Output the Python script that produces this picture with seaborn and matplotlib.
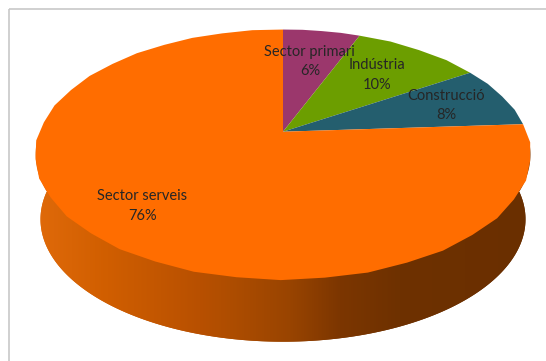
import numpy as np
import matplotlib
matplotlib.use("Agg")
import matplotlib.pyplot as plt
import seaborn as sns
from matplotlib.transforms import Transform
from matplotlib.path import Path
from matplotlib.patches import Polygon, Rectangle
from matplotlib.colors import LinearSegmentedColormap

# Employment by sector (%)
sectors = ["Sector primari", "Indústria", "Construcció", "Sector serveis"]
shares = [6, 10, 8, 76]
colors = ["#9B376C", "#6C9E00", "#245E6E", "#FF6D00"]
label_radius = [0.66, 0.665, 0.735, 0.76]

sns.set_theme(style="white")
plt.rcParams["font.family"] = ["Lato", "DejaVu Sans"]

W, H = 546, 361
CX, CY = 283.0, 131.7      # projected centre of the top face
RX, RY = 243.3, 120.8      # half axes of the tilted disc
TILT = 0.1824              # perspective strength
SHRINK = 0.98              # bottom face is slightly smaller (viewed from above)
DROP = 341.7 - CY - SHRINK * RY / (1 - TILT)


class TiltedDisk(Transform):
    """Map the unit pie disc onto a tilted, perspective-projected ellipse."""
    input_dims = output_dims = 2
    is_separable = False
    has_inverse = False

    def __init__(self, drop=0.0, shrink=1.0):
        super().__init__()
        self.drop = drop
        self.shrink = shrink

    def transform_non_affine(self, values):
        values = np.asarray(values, float).reshape(-1, 2)
        u, v = values[:, 0], values[:, 1]
        w = 1 + TILT * v
        x = CX + self.shrink * RX * u / w
        y = CY + self.drop - self.shrink * RY * v / w
        return np.column_stack([x, y])

    def transform_path_non_affine(self, path):
        pieces, codes = [], []
        for poly in path.to_polygons(closed_only=False):
            dense = Path(poly).interpolated(16).vertices
            pieces.append(self.transform_non_affine(dense))
            c = np.full(len(dense), Path.LINETO, dtype=np.uint8)
            c[0] = Path.MOVETO
            codes.append(c)
        return Path(np.concatenate(pieces), np.concatenate(codes))


fig = plt.figure(figsize=(W / 100, H / 100), dpi=100)
ax = fig.add_axes([0, 0, 1, 1])

wedges, _ = ax.pie(shares, colors=colors, startangle=90, counterclock=False,
                   radius=1, center=(0, 0), wedgeprops=dict(linewidth=0))
top = TiltedDisk()
for w in wedges:
    w.set_transform(top + ax.transData)
    w.set_zorder(3)

ax.set_aspect("auto")
ax.set_xlim(0, W)
ax.set_ylim(H, 0)
ax.axis("off")

# cylinder wall: front half of the rim down to the bottom face
bottom = TiltedDisk(drop=DROP, shrink=SHRINK)
theta = np.radians(np.linspace(25, -205, 300))
ring = np.column_stack([np.cos(theta), np.sin(theta)])
full = np.radians(np.linspace(0, 360, 300))
circle = np.column_stack([np.cos(full), np.sin(full)])
wall_pts = np.vstack([top.transform(ring), bottom.transform(ring[::-1])])
wall = Polygon(wall_pts, closed=True, facecolor="none", edgecolor="none")
ax.add_patch(wall)
base = Polygon(bottom.transform(circle), closed=True, facecolor="none", edgecolor="none")
ax.add_patch(base)

stops = [(35, "#E06A0A"), (107, "#D05E00"), (200, "#B85000"), (230, "#AE4D00"),
         (290, "#994400"), (340, "#7C3600"), (400, "#6E3100"), (531, "#6A2F00")]
x0, x1 = stops[0][0], stops[-1][0]
wall_cmap = LinearSegmentedColormap.from_list(
    "wall", [((x - x0) / (x1 - x0), c) for x, c in stops])
grad = np.linspace(0, 1, 512)[None, :]
for clip in (wall, base):
    im = ax.imshow(grad, cmap=wall_cmap, extent=[x0, x1, 350, 140],
                   aspect="auto", interpolation="bilinear", zorder=1)
    im.set_clip_path(clip)
ax.set_xlim(0, W)
ax.set_ylim(H, 0)

# data labels
for w, name, share, r in zip(wedges, sectors, shares, label_radius):
    mid = np.radians((w.theta1 + w.theta2) / 2)
    (lx, ly), = top.transform([[r * np.cos(mid), r * np.sin(mid)]])
    ax.text(lx, ly, f"{name}\n{share}%", ha="center", va="center",
            fontsize=10.5, color="#262626", linespacing=1.5, zorder=5)

# chart area frame
ax.add_patch(Rectangle((8.5, 8.5), 700, 500, fill=False, edgecolor="#C8C8C8",
                       linewidth=1.2, zorder=6))

fig.savefig("out.png", dpi=100)
